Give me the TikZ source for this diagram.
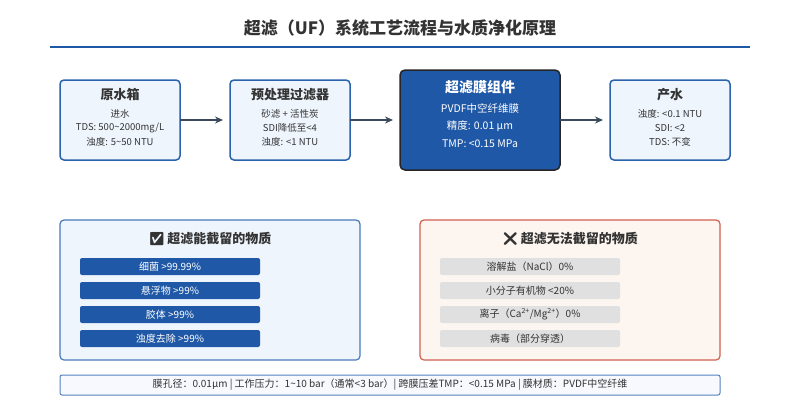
\documentclass[tikz,border=0pt]{standalone}
\usepackage{fontspec}
\usetikzlibrary{arrows.meta}
\setmainfont{Noto Sans CJK SC}
\newfontfamily\emo{Noto Emoji}
\definecolor{dblue}{HTML}{1F58A6}
\definecolor{bord}{HTML}{2B63AD}
\definecolor{lbg}{HTML}{EEF5FD}
\definecolor{txt}{HTML}{333333}
\definecolor{arr}{HTML}{3A4A5A}
\definecolor{rbord}{HTML}{D0604F}
\definecolor{rbg}{HTML}{FDF6F0}
\definecolor{gbar}{HTML}{E0E0E0}
\begin{document}
\begin{tikzpicture}[x=1pt,y=-1pt,
  box/.style={draw=bord,fill=lbg,line width=1.5pt,rounded corners=4pt},
  ttl/.style={font=\bfseries\fontsize{13}{15}\selectfont,text=txt},
  sm/.style={font=\fontsize{9.5}{11}\selectfont,text=txt},
  wsm/.style={font=\fontsize{10.5}{12}\selectfont,text=white},
  ar/.style={draw=arr,line width=1.3pt,-{Stealth[length=8pt,width=7pt]}},
  bbar/.style={fill=dblue,rounded corners=2pt,minimum width=180pt,minimum height=17pt,inner sep=0pt,font=\fontsize{10}{12}\selectfont,text=white},
  gbarst/.style={fill=gbar,rounded corners=2pt,minimum width=180pt,minimum height=17pt,inner sep=0pt,font=\fontsize{10}{12}\selectfont,text=txt}]
\useasboundingbox (0,0) rectangle (800,400);
\fill[white] (0,0) rectangle (800,400);
\node[font=\bfseries\fontsize{17}{20}\selectfont,text=txt] (title) at (400,28) {超滤（UF）系统工艺流程与水质净化原理};
\draw[dblue,line width=1.5pt] (50,47) -- (750,47);
% boxes
\draw[box] (60,80) rectangle (180,160);
\node[ttl] at (120,95) {原水箱};
\node[sm] at (120,114) {进水};
\node[sm] at (120,128) {TDS: 500\textasciitilde 2000mg/L};
\node[sm] at (120,142) {浊度: 5\textasciitilde 50 NTU};
\draw[box] (230,80) rectangle (350,160);
\node[ttl] at (290,95) {预处理过滤器};
\node[sm] at (290,114) {砂滤 + 活性炭};
\node[sm] at (290,128) {SDI降低至<4};
\node[sm] at (290,142) {浊度: <1 NTU};
\draw[draw=black!85,fill=dblue,line width=1.5pt,rounded corners=5pt] (400,70) rectangle (560,170);
\node[font=\bfseries\fontsize{14}{16}\selectfont,text=white] at (480,87) {超滤膜组件};
\node[wsm] at (480,108) {PVDF中空纤维膜};
\node[wsm] at (480,126) {精度: 0.01 μm};
\node[wsm] at (480,144) {TMP: <0.15 MPa};
\draw[box] (610,80) rectangle (730,160);
\node[ttl] at (670,95) {产水};
\node[sm] at (670,114) {浊度: <0.1 NTU};
\node[sm] at (670,128) {SDI: <2};
\node[sm] at (670,142) {TDS: 不变};
\coordinate (a1) at (180,120); \coordinate (a2) at (223,120);
\coordinate (a3) at (350,120); \coordinate (a4) at (393,120);
\coordinate (a5) at (560,120); \coordinate (a6) at (603,120);
\draw[ar] (a1) -- (a2); \draw[ar] (a3) -- (a4); \draw[ar] (a5) -- (a6);
% panels
\draw[draw=bord!85,fill=lbg,line width=1.2pt,rounded corners=4pt] (60,220) rectangle (360,360);
\node[ttl] at (210,239) {{\emo ✅}\,超滤能截留的物质};
\node[bbar] at (170,266.5) {细菌 >99.99\%};
\node[bbar] at (170,290.5) {悬浮物 >99\%};
\node[bbar] at (170,314.5) {胶体 >99\%};
\node[bbar] at (170,338.5) {浊度去除 >99\%};
\draw[draw=rbord,fill=rbg,line width=1.2pt,rounded corners=4pt] (420,220) rectangle (720,360);
\node[ttl] at (570,239) {{\emo ❌}\,超滤无法截留的物质};
\node[gbarst] at (530,266.5) {溶解盐（NaCl）0\%};
\node[gbarst] at (530,290.5) {小分子有机物 <20\%};
\node[gbarst] at (530,314.5) {离子（Ca\textsuperscript{2+}/Mg\textsuperscript{2+}）0\%};
\node[gbarst] at (530,338.5) {病毒（部分穿透）};
\draw[draw=bord!80,fill=lbg!70!blue!8,line width=1pt,rounded corners=2pt] (60,375) rectangle (720,395);
\node[text=txt,font=\fontsize{10}{12}\selectfont] at (390,385) {膜孔径：0.01μm | 工作压力：1\textasciitilde 10 bar（通常<3 bar）| 跨膜压差TMP：<0.15 MPa | 膜材质：PVDF中空纤维};
\end{tikzpicture}
\end{document}
